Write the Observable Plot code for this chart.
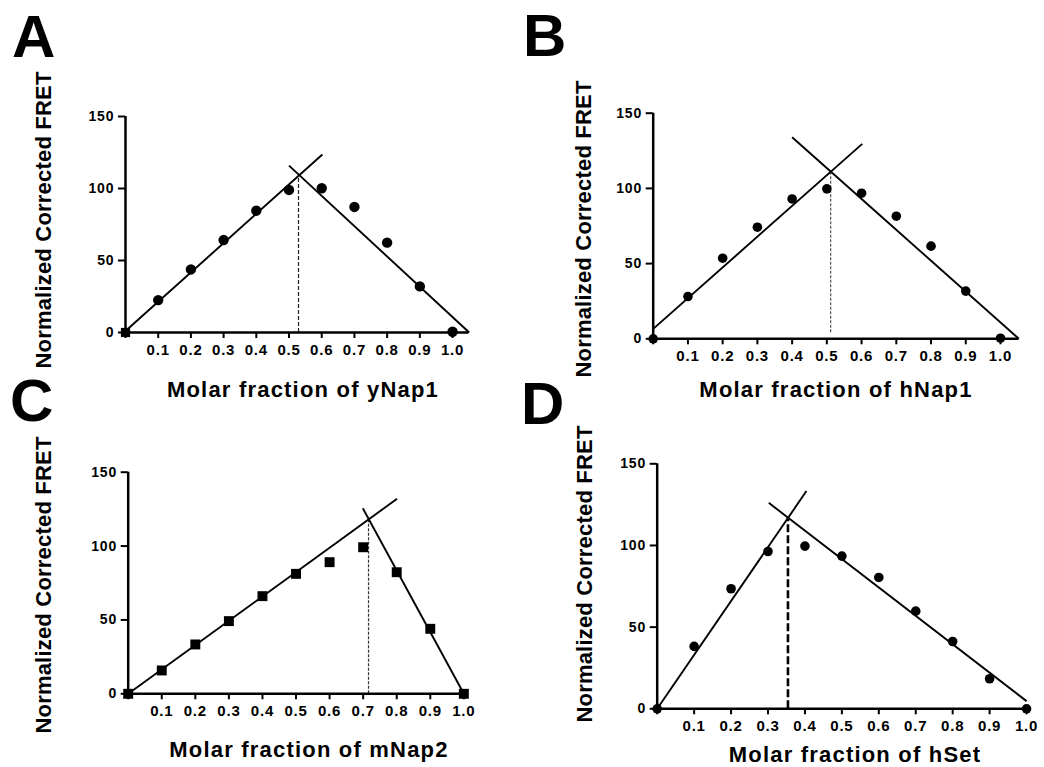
<!DOCTYPE html>
<html>
<head>
<meta charset="utf-8">
<script src="https://cdn.jsdelivr.net/npm/d3@7"></script>
<script src="https://cdn.jsdelivr.net/npm/@observablehq/plot@0.6"></script>
<style>
  html, body { margin: 0; padding: 0; background: #fff; }
  #root { position: relative; width: 1044px; height: 767px; overflow: hidden; font-family: "Liberation Sans", Arial, sans-serif; font-weight: bold; color: #000; }
  .panel { position: absolute; }
  .txt { position: absolute; white-space: nowrap; line-height: 1; }
  .letter { font-size: 60px; }
  .xtitle { font-size: 22px; letter-spacing: 1.2px; transform: translateX(-50%); }
  .ytitle { font-size: 22px; letter-spacing: 0.2px; transform: translate(-50%, -50%) rotate(-90deg); }
</style>
</head>
<body>
<div id="root"></div>
<script>
// ---------- data ----------
const fractions = [0, 0.1, 0.2, 0.3, 0.4, 0.5, 0.6, 0.7, 0.8, 0.9, 1.0];
const xTicks = [0, 0.1, 0.2, 0.3, 0.4, 0.5, 0.6, 0.7, 0.8, 0.9, 1.0];
const yTicks = [0, 50, 100, 150];

const fretA = [0, 22.5, 43.8, 64.2, 84.6, 99, 100.2, 87.2, 62.4, 32, 0.5];
const fretB = [0, 28.1, 53.6, 74.2, 93, 99.7, 96.8, 81.5, 61.6, 31.7, 0.4];
const fretC = [0, 15.8, 33.4, 49.2, 66.1, 81.2, 89.1, 99.2, 82.3, 44, 0];
const fretD = [0, 38.2, 73.5, 96.3, 99.6, 93.5, 80.4, 59.8, 41.2, 18.4, 0];

// fitted lines: [x1, y1, x2, y2]
const fitUpA = [0, 1, 0.602, 123.6];
const fitDownA = [0.5, 115.9, 1.051, 0];
const fitUpB = [0, 6.6, 0.602, 129.6];
const fitDownB = [0.4, 134, 1.053, 0];
const fitUpC = [0, 0, 0.801, 132];
const fitDownC = [0.699, 125.6, 1.0, 0];
const fitUpD = [0, 0, 0.404, 133.3];
const fitDownD = [0.302, 126.1, 1.0, 4.7];

// stoichiometry markers (dashed vertical): [x, yFrom, yTo]
const dashA = [0.529, 0, 109];
const dashB = [0.511, 4, 111];
const dashC = [0.716, 0, 118.4];
const dashD = [0.354, 0, 117];

const letters = ["A", "B", "C", "D"];
const xTitles = ["Molar fraction of yNap1", "Molar fraction of hNap1", "Molar fraction of mNap2", "Molar fraction of hSet"];
const yTitle = "Normalized Corrected FRET";

// ---------- layout ----------
const panels = [
  {fret: fretA, up: fitUpA, down: fitDownA, dash: dashA, symbol: "circle", r: 5.2, origin: "square",
   box: {left: 0, top: 0, w: 520, h: 380}, m: {l: 125, r: 51.6, t: 116, b: 48}, xmax: 1.05,
   dashStyle: {stroke: "#222", strokeWidth: 1.2, strokeDasharray: "4,2"}},
  {fret: fretB, up: fitUpB, down: fitDownB, dash: dashB, symbol: "circle", r: 4.8, origin: "circle",
   box: {left: 520, top: 0, w: 524, h: 380}, m: {l: 132.7, r: 25.6, t: 112.7, b: 41.7}, xmax: 1.053,
   dashStyle: {stroke: "#555", strokeWidth: 1.2, strokeDasharray: "3,1.5"}},
  {fret: fretC, up: fitUpC, down: fitDownC, dash: dashC, symbol: "square", r: 5.6, origin: "square",
   box: {left: 0, top: 380, w: 520, h: 387}, m: {l: 127.7, r: 53.3, t: 91.7, b: 73.7}, xmax: 1.01,
   dashStyle: {stroke: "#333", strokeWidth: 1.2, strokeDasharray: "3,1.5"}},
  {fret: fretD, up: fitUpD, down: fitDownD, dash: dashD, symbol: "circle", r: 4.8, origin: "circle",
   box: {left: 520, top: 380, w: 524, h: 387}, m: {l: 136.7, r: 16.1, t: 83.3, b: 58.7}, xmax: 1.005,
   dashStyle: {stroke: "#000", strokeWidth: 2.6, strokeDasharray: "8,3"}}
];

const root = document.getElementById("root");
const fmt = d3.format(".1f");

panels.forEach((p) => {
  const pts = fractions.map((x, i) => ({x, y: p.fret[i]}));
  const fits = [p.up, p.down].map(([x1, y1, x2, y2]) => ({x1, y1, x2, y2}));
  const chart = Plot.plot({
    width: p.box.w,
    height: p.box.h,
    marginLeft: p.m.l, marginRight: p.m.r, marginTop: p.m.t, marginBottom: p.m.b,
    x: {domain: [0, p.xmax]},
    y: {domain: [0, 150]},
    style: {fontFamily: "'Liberation Sans', Arial, sans-serif", fontWeight: "bold", color: "#000", background: "transparent", overflow: "visible"},
    marks: [
      Plot.ruleX([p.dash], {x: d => d[0], y1: d => d[1], y2: d => d[2], ...p.dashStyle}),
      Plot.link(fits, {x1: "x1", y1: "y1", x2: "x2", y2: "y2", stroke: "#000", strokeWidth: 1.9}),
      Plot.ruleX([0], {y1: 0, y2: 150, stroke: "#000", strokeWidth: 2.5}),
      Plot.ruleY([0], {x1: 0, x2: p.xmax, stroke: "#000", strokeWidth: 2.5}),
      Plot.axisY({ticks: yTicks, tickSize: 7, tickPadding: 4, strokeWidth: 2, label: null}),
      Plot.axisX({ticks: xTicks, tickFormat: d => d === 0 ? "" : fmt(d), tickSize: 6, tickPadding: 6, strokeWidth: 2, label: null}),
      Plot.dot(pts.filter(d => d.x > 0), {x: "x", y: "y", symbol: p.symbol, r: p.r, fill: "#000", stroke: "none"}),
      Plot.dot(pts.filter(d => d.x === 0), {x: "x", y: "y", symbol: p.origin, r: p.r, fill: "#000", stroke: "none"})
    ]
  });
  // tick labels: bold, ~15px (x) and 14px (y)
  chart.querySelectorAll("text").forEach((t) => {
    const isX = t.textContent.includes(".");
    t.setAttribute("font-size", isX ? 15 : 14);
    t.style.fontSize = (isX ? 15 : 14) + "px";
    t.style.fontWeight = "bold";
    t.style.letterSpacing = isX ? "0.8px" : "0.9px";
  });
  chart.classList.add("panel");
  chart.style.left = p.box.left + "px";
  chart.style.top = p.box.top + "px";
  root.appendChild(chart);
});

// ---------- texts ----------
function addText(cls, text, left, top) {
  const el = document.createElement("div");
  el.className = "txt " + cls;
  el.textContent = text;
  el.style.left = left + "px";
  el.style.top = top + "px";
  root.appendChild(el);
}
// panel letters (top = baseline - 0.8465*60)
const letterPos = [[12, 58], [523, 57], [10, 422], [521, 425]];
letters.forEach((t, i) => addText("letter", t, letterPos[i][0], letterPos[i][1] - 50.8));
// x titles (centered, top = baseline - 18.6)
const xTitlePos = [[303, 398], [836, 398], [309, 758], [855, 763]];
xTitles.forEach((t, i) => addText("xtitle", t, xTitlePos[i][0], xTitlePos[i][1] - 18.6));
// y titles (center)
const yTitlePos = [[44, 220], [584, 229], [44, 585], [585, 574]];
yTitlePos.forEach(([x, y]) => addText("ytitle", yTitle, x, y));
</script>
</body>
</html>
